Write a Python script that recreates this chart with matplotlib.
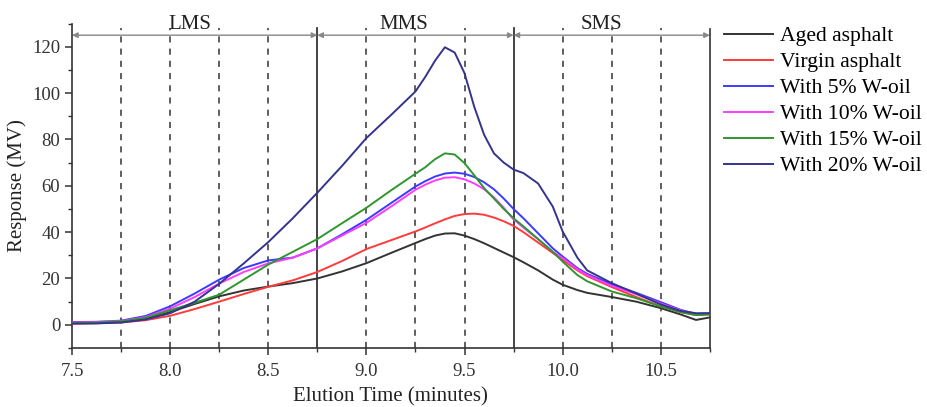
import matplotlib
matplotlib.use("Agg")
import matplotlib.pyplot as plt
from matplotlib.ticker import MultipleLocator, FormatStrFormatter

plt.rcParams['font.family'] = ['Liberation Serif', 'DejaVu Serif']

# ---- data ----
time = [7.5, 7.625, 7.75, 7.875, 8.0, 8.125, 8.25, 8.375, 8.5, 8.625, 8.75, 8.875,
        9.0, 9.125, 9.25, 9.3, 9.35, 9.4, 9.45, 9.5, 9.55, 9.6, 9.65, 9.7, 9.75,
        9.8, 9.875, 9.95, 10.0, 10.075, 10.125, 10.25, 10.375, 10.5, 10.6, 10.68, 10.75]

aged = [1.0, 1.0, 1.2, 2.5, 5.5, 9.0, 12.3, 14.8, 16.5, 18.0, 20.0, 23.0,
        26.6, 31.0, 35.3, 37.0, 38.5, 39.4, 39.5, 38.5, 37.0, 35.2, 33.2, 31.2, 29.2,
        27.0, 23.5, 19.5, 17.3, 15.0, 13.8, 12.0, 10.0, 7.2, 4.5, 2.1, 3.2]

virgin = [0.5, 0.7, 1.0, 2.0, 3.9, 6.8, 10.0, 13.3, 16.4, 19.2, 22.8, 27.5,
          32.7, 36.5, 40.3, 42.0, 43.8, 45.5, 47.0, 47.8, 48.0, 47.5, 46.3, 44.7, 42.7,
          40.0, 35.5, 31.0, 28.0, 23.5, 21.0, 16.3, 12.0, 8.0, 5.5, 4.2, 4.5]

w5 = [1.2, 1.3, 1.8, 3.8, 8.0, 13.5, 19.5, 24.5, 27.8, 29.0, 33.0, 39.0,
      45.3, 52.5, 59.7, 62.0, 64.0, 65.3, 65.7, 65.2, 63.8, 61.5, 58.5, 54.5, 50.0,
      46.0, 39.5, 33.0, 29.5, 24.5, 22.0, 17.5, 13.8, 9.8, 6.5, 4.7, 5.0]

w10 = [1.0, 1.2, 1.6, 3.3, 7.0, 12.0, 17.8, 22.8, 26.5, 29.0, 33.0, 38.5,
       44.0, 51.0, 58.3, 60.5, 62.3, 63.5, 63.7, 62.8, 61.0, 58.5, 55.0, 50.5, 45.5,
       42.0, 37.0, 31.5, 28.8, 24.0, 21.5, 16.8, 13.2, 9.2, 6.2, 4.5, 4.8]

w15 = [0.8, 1.0, 1.5, 3.0, 6.3, 9.5, 13.0, 19.5, 26.0, 31.5, 37.0, 43.8,
       50.5, 58.0, 65.2, 68.0, 71.5, 74.0, 73.5, 69.8, 64.5, 59.0, 54.5, 50.0, 46.0,
       42.5, 37.0, 31.5, 27.3, 21.5, 18.8, 14.4, 11.5, 7.9, 5.5, 4.2, 4.5]

w20 = [0.5, 0.6, 1.0, 2.3, 5.0, 10.0, 17.7, 26.5, 35.7, 46.0, 57.0, 68.5,
       80.6, 90.5, 100.7, 107.0, 114.0, 119.8, 117.5, 108.6, 94.0, 82.0, 74.0, 70.0, 67.0,
       65.5, 61.0, 51.0, 40.3, 29.0, 23.5, 18.0, 13.5, 8.8, 6.0, 5.0, 5.0]

labels = ["Aged asphalt", "Virgin asphalt", "With 5% W-oil",
          "With 10% W-oil", "With 15% W-oil", "With 20% W-oil"]
colors = ["#333333", "#ff3b3b", "#3b3bff", "#ff3bff", "#2f962f", "#34348f"]

dashed_x = [7.75, 8.0, 8.25, 8.5, 9.0, 9.25, 9.5, 10.0, 10.25, 10.5]
solid_x = [8.75, 9.75]
regions = [("LMS", 7.5, 8.75, 8.1), ("MMS", 8.75, 9.75, 9.19), ("SMS", 9.75, 10.75, 10.2)]

# ---- figure ----
fig = plt.figure(figsize=(9.27, 4.07), dpi=100)
ax = fig.add_axes([0.0777, 0.145, 0.688, 0.797])

series = [aged, virgin, w5, w10, w15, w20]
lines = []
for s, lab, c in zip(series, labels, colors):
    ln, = ax.plot(time, s, color=c, lw=1.4, label=lab, zorder=3)
    lines.append(ln)

for xv in dashed_x:
    ax.plot([xv, xv], [-10, 128], color="#333333", lw=1.1, ls=(0, (4, 4)), zorder=2)
for xv in solid_x:
    ax.plot([xv, xv], [-10, 128], color="#222222", lw=1.2, zorder=2)

for name, x0, x1, xt in regions:
    ax.annotate("", xy=(x0, 125), xytext=(x1, 125),
                arrowprops=dict(arrowstyle="<|-|>", color="#888888", lw=1.0,
                                mutation_scale=8, shrinkA=0, shrinkB=0),
                annotation_clip=False)
    ax.text(xt, 125.6, name, ha="center", va="bottom", fontsize=15, color="#222222",
            clip_on=False)

ax.set_xlim(7.5, 10.75)
ax.set_ylim(-10, 130)
ax.xaxis.set_major_locator(MultipleLocator(0.5))
ax.xaxis.set_minor_locator(MultipleLocator(0.25))
ax.xaxis.set_major_formatter(FormatStrFormatter("%.1f"))
ax.yaxis.set_major_locator(MultipleLocator(20))
ax.yaxis.set_minor_locator(MultipleLocator(10))
ax.tick_params(which="both", direction="out", labelsize=13.5, colors="#333333")
ax.tick_params(which="major", length=5, width=1.1)
ax.tick_params(which="minor", length=3, width=1.0)
ax.tick_params(axis="x", pad=6)

ax.spines["top"].set_visible(False)
ax.spines["right"].set_bounds(-10, 127.5)
for sp in ["left", "right", "bottom"]:
    ax.spines[sp].set_color("#333333")
    ax.spines[sp].set_linewidth(1.2)

ax.set_xlabel("Elution Time (minutes)", fontsize=15, color="#222222", labelpad=5)
ax.set_ylabel("Response (MV)", fontsize=15, color="#222222", labelpad=4)

fig.legend(handles=lines, labels=labels, loc="upper left",
           bbox_to_anchor=(724 / 927, 1 - 26 / 407), frameon=False,
           fontsize=15.6, handlelength=2.25, handletextpad=0.33,
           labelspacing=0.27, borderpad=0, borderaxespad=0)

fig.savefig("out.png", dpi=100)
